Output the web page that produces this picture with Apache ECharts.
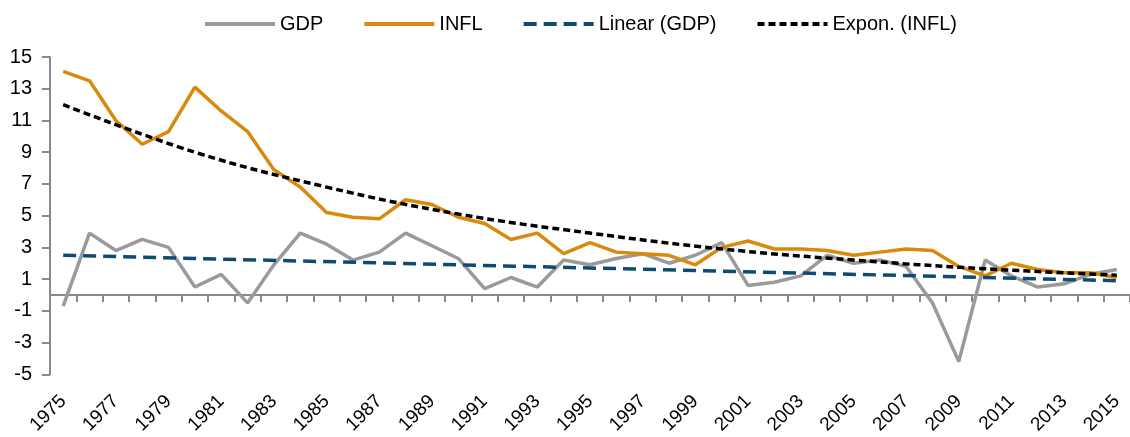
<!DOCTYPE html>
<html>
<head>
<meta charset="utf-8">
<script src="https://cdn.jsdelivr.net/npm/echarts@6/dist/echarts.min.js"></script>
<style>
	html, body { margin: 0; padding: 0; background: #fff; }
	#chart { width: 1130px; height: 437px; }
</style>
</head>
<body>
<div id="chart"></div>
<script>
// years on the category axis
var years = ['1975','1976','1977','1978','1979','1980','1981','1982','1983','1984',
	'1985','1986','1987','1988','1989','1990','1991','1992','1993','1994',
	'1995','1996','1997','1998','1999','2000','2001','2002','2003','2004',
	'2005','2006','2007','2008','2009','2010','2011','2012','2013','2014','2015'];

// GDP growth, %
var gdp = [-0.7, 3.9, 2.8, 3.5, 3.0, 0.5, 1.3, -0.5, 1.9, 3.9,
	3.2, 2.2, 2.7, 3.9, 3.1, 2.3, 0.4, 1.1, 0.5, 2.2,
	1.9, 2.3, 2.6, 2.0, 2.5, 3.3, 0.6, 0.8, 1.2, 2.5,
	2.0, 2.2, 1.8, -0.5, -4.2, 2.2, 1.2, 0.5, 0.7, 1.3, 1.6];

// inflation, %
var infl = [14.1, 13.5, 11.0, 9.5, 10.3, 13.1, 11.6, 10.3, 7.9, 6.8,
	5.2, 4.9, 4.8, 6.0, 5.7, 4.9, 4.5, 3.5, 3.9, 2.6,
	3.3, 2.7, 2.6, 2.5, 1.9, 3.0, 3.4, 2.9, 2.9, 2.8,
	2.5, 2.7, 2.9, 2.8, 1.8, 1.2, 2.0, 1.6, 1.4, 1.4, 1.1];

// trend lines
var linearYears = ['1975', '2015'];
var linearVals = [2.5, 0.9];
var expYears = ['1975','1980','1985','1990','1995','2000','2005','2010','2015'];
var expVals = [12.0, 9.0, 6.8, 5.1, 3.9, 2.9, 2.2, 1.65, 1.25];

var yTicks = { min: -5, max: 15, step: 2 };

function pairs(xs, ys) {
	return xs.map(function(x, i) { return [x, ys[i]]; });
}

var font = "'Liberation Sans', Arial, sans-serif";
var axisGray = '#898989';

var chart = echarts.init(document.getElementById('chart'));
chart.setOption({
	animation: false,
	textStyle: { fontFamily: font },
	legend: {
		top: 9,
		left: 198,
		itemWidth: 70,
		itemHeight: 14,
		itemGap: 39,
		itemStyle: { opacity: 0 },
		lineStyle: { width: 4 },
		textStyle: { fontSize: 20, color: '#000', fontFamily: font },
		data: ['GDP', 'INFL', 'Linear (GDP)', 'Expon. (INFL)']
	},
	grid: { left: 50, top: 57, width: 1083, height: 320 },
	xAxis: [{
		type: 'category',
		data: years,
		boundaryGap: true,
		axisLine: { onZero: true, lineStyle: { color: axisGray, width: 2 } },
		axisTick: { show: true, interval: 0, length: 7, lineStyle: { color: axisGray, width: 2 } },
		axisLabel: { show: false }
	}, {
		// labels only, kept at the bottom of the plot
		type: 'category',
		data: years,
		boundaryGap: true,
		position: 'bottom',
		axisLine: { show: false, onZero: false },
		axisTick: { show: false },
		axisLabel: { interval: 1, rotate: 45, margin: 24, fontSize: 19, color: '#000', fontFamily: font }
	}],
	yAxis: {
		type: 'value',
		min: yTicks.min,
		max: yTicks.max,
		interval: yTicks.step,
		axisLine: { show: true, lineStyle: { color: axisGray, width: 2 } },
		axisTick: { show: true, length: 8, lineStyle: { color: axisGray, width: 2 } },
		axisLabel: { margin: 18, fontSize: 20, color: '#000', fontFamily: font },
		splitLine: { show: false }
	},
	series: [{
		name: 'GDP',
		type: 'line',
		data: gdp,
		symbol: 'none',
		lineStyle: { color: '#9a9a9a', width: 3.5 },
		itemStyle: { color: '#9a9a9a' }
	}, {
		name: 'INFL',
		type: 'line',
		data: infl,
		symbol: 'none',
		lineStyle: { color: '#d98a0c', width: 3.5 },
		itemStyle: { color: '#d98a0c' }
	}, {
		name: 'Linear (GDP)',
		type: 'line',
		data: pairs(linearYears, linearVals),
		symbol: 'none',
		lineStyle: { color: '#0f4a72', width: 3.5, type: [13, 7] },
		itemStyle: { color: '#0f4a72' }
	}, {
		name: 'Expon. (INFL)',
		type: 'line',
		data: pairs(expYears, expVals),
		symbol: 'none',
		smooth: 0.4,
		lineStyle: { color: '#000', width: 3.5, type: [7, 4] },
		itemStyle: { color: '#000' }
	}]
});
</script>
</body>
</html>
